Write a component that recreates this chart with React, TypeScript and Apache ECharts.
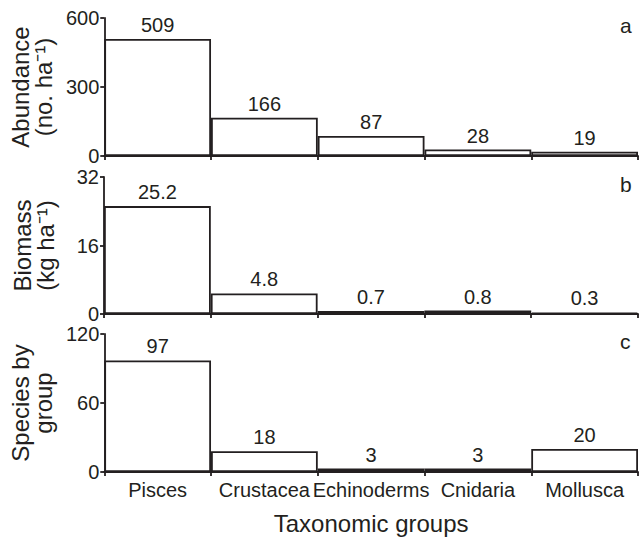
import React, { useEffect, useRef } from "react";
import * as echarts from "echarts";

const categories = ["Pisces", "Crustacea", "Echinoderms", "Cnidaria", "Mollusca"];
const abundance = [509, 166, 87, 28, 19];
const biomass = [25.2, 4.8, 0.7, 0.8, 0.3];
const species = [97, 18, 3, 3, 20];
const panelLetters = ["a", "b", "c"];
const yMax = [600, 32, 120];
const yInterval = [300, 16, 60];
const yNames = ["Abundance\n(no. ha⁻¹)", "Biomass\n(kg ha⁻¹)", "Species by\ngroup"];

const FONT = "Liberation Sans, Arial, Helvetica, sans-serif";
const INK = "#231f20";

export default function App() {
  const ref = useRef<HTMLDivElement>(null);
  useEffect(() => {
    if (!ref.current) return;
    const chart = echarts.init(ref.current, null, { renderer: "svg" });
    const grids = [
      { left: 104, right: 2, top: 18, height: 138 },
      { left: 104, right: 2, top: 177, height: 137 },
      { left: 104, right: 2, top: 334, height: 138 },
    ];
    const seriesData = [abundance, biomass, species];
    chart.setOption({
      animation: false,
      textStyle: { fontFamily: FONT, color: INK },
      grid: grids,
      xAxis: grids.map((_, i) => ({
        type: "category",
        gridIndex: i,
        data: categories,
        axisLine: { lineStyle: { color: INK, width: 1.8 } },
        axisTick: { show: true, alignWithLabel: false, interval: 0, length: 4, lineStyle: { color: INK, width: 1.8 } },
        axisLabel: { show: i === 2, interval: 0, fontSize: 20, color: INK, margin: 8, fontFamily: FONT },
        name: i === 2 ? "Taxonomic groups" : "",
        nameLocation: "middle",
        nameGap: 39,
        nameTextStyle: { fontSize: 24, color: INK, fontFamily: FONT },
      })),
      yAxis: grids.map((_, i) => ({
        type: "value",
        gridIndex: i,
        min: 0,
        max: yMax[i],
        interval: yInterval[i],
        splitLine: { show: false },
        axisLine: { show: true, lineStyle: { color: INK, width: 1.8 } },
        axisTick: { show: true, length: 4, lineStyle: { color: INK, width: 1.8 } },
        axisLabel: { fontSize: 20, color: INK, margin: 5, fontFamily: FONT },
        name: yNames[i],
        nameLocation: "middle",
        nameRotate: 90,
        nameGap: 47,
        nameTextStyle: { fontSize: 24, color: INK, lineHeight: 23, fontFamily: FONT },
      })),
      series: seriesData.map((d, i) => ({
        type: "bar",
        xAxisIndex: i,
        yAxisIndex: i,
        data: d,
        barCategoryGap: "0%",
        itemStyle: { color: "#fff", borderColor: INK, borderWidth: 1.8 },
        label: {
          show: true,
          position: "top",
          distance: 4,
          fontSize: 20,
          color: INK,
          fontFamily: FONT,
          formatter: (p: any) => String(p.value),
        },
      })),
      graphic: grids.map((g, i) => ({
        type: "text",
        left: 620,
        top: g.top - 3,
        style: { text: panelLetters[i], fontSize: 21, fill: INK, fontFamily: FONT },
      })),
    });
    return () => chart.dispose();
  }, []);
  return <div ref={ref} style={{ position: "absolute", left: 0, top: 0, width: 640, height: 539 }} />;
}
